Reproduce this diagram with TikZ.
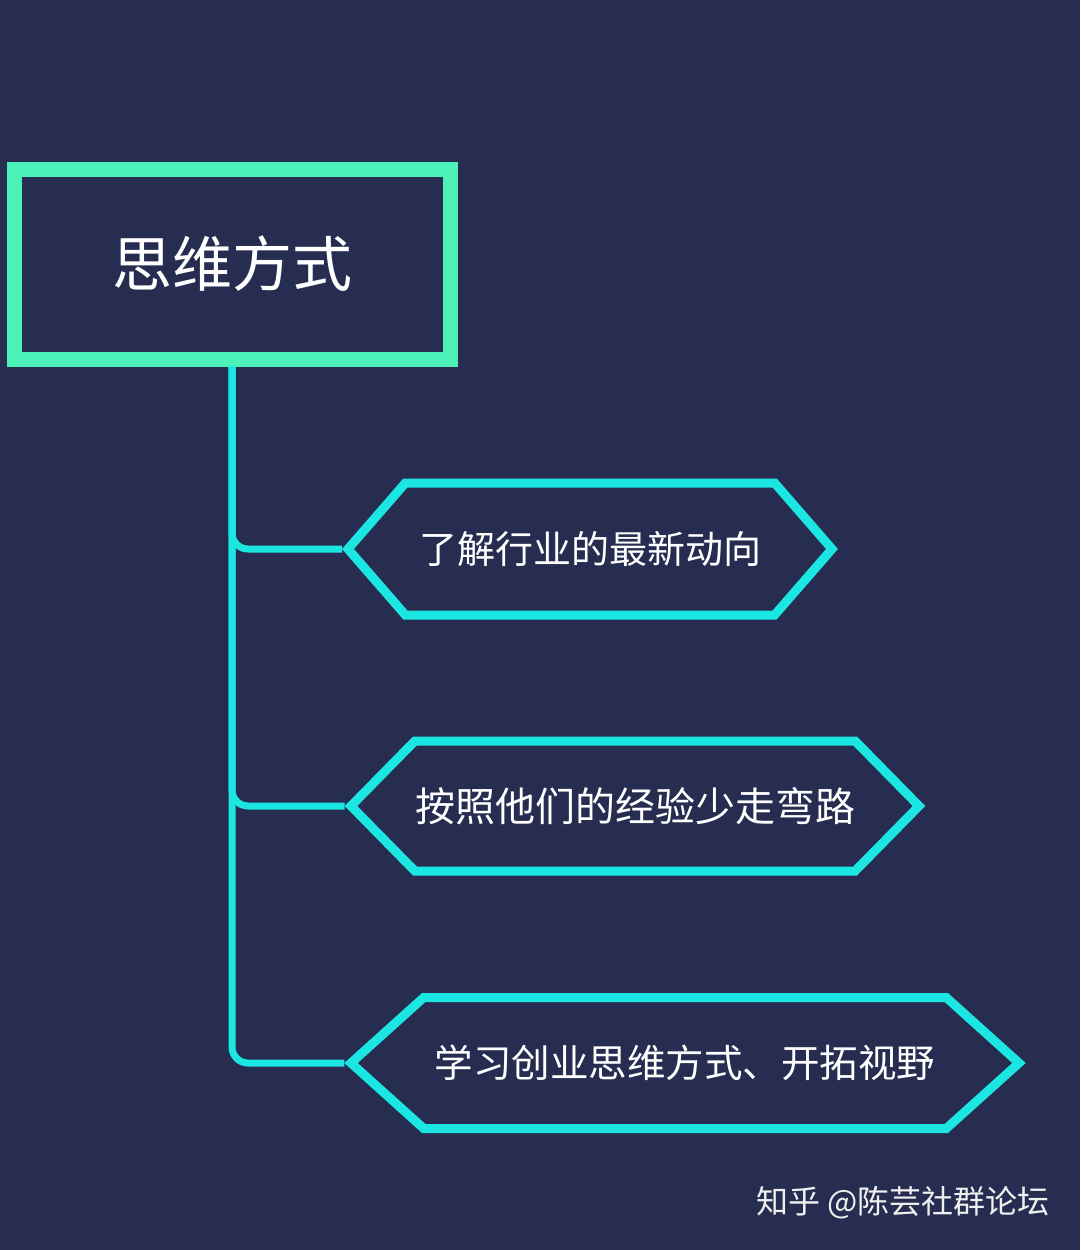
\documentclass[tikz,border=0pt]{standalone}
\usepackage{fontspec}
\setmainfont{Noto Sans CJK SC}
\usepackage{tikz}
\usetikzlibrary{shapes.symbols,positioning}
\definecolor{pagebg}{RGB}{38,45,80}
\definecolor{rootline}{RGB}{76,242,184}
\definecolor{branchline}{RGB}{28,230,226}
\definecolor{marktext}{RGB}{240,240,240}

\begin{document}
\begin{tikzpicture}[x=1pt, y=-1pt,
  rootbox/.style={rectangle, draw=rootline, line width=15pt, minimum width=436pt, minimum height=190pt, text=white, font=\fontsize{60}{66}\selectfont, inner sep=0pt},
  hexbox/.style={signal, signal to=west and east, draw=branchline, line width=9pt, text=white, inner sep=0pt},
  link/.style={draw=branchline, line width=7pt, rounded corners=16pt},
  wmark/.style={text=marktext, font=\fontsize{32}{36}\selectfont, inner sep=0pt}
]
  % ---------------- page ----------------
  \fill[pagebg] (0,0) rectangle (1080,1250);
  \useasboundingbox (0,0) rectangle (1080,1250);
  % ---------------- nodes ----------------
  \node[rootbox] (root) at (232,264) {思维方式};
  \node[hexbox, signal pointer angle=98, minimum width=484pt, minimum height=132pt, font=\fontsize{38}{44}\selectfont] (news) at (590,549) {了解行业的最新动向};
  \node[hexbox, signal pointer angle=91, minimum width=568pt, minimum height=130pt, font=\fontsize{40}{46}\selectfont] (exp) at (635,806) {按照他们的经验少走弯路};
  \node[hexbox, signal pointer angle=84, minimum width=668pt, minimum height=131pt, font=\fontsize{38.5}{44}\selectfont] (view) at (685,1063) {学习创业思维方式、开拓视野};
  % watermark
  \node[wmark, anchor=east] (zh) at (1050,1203) {知乎 @陈芸社群论坛};
  % ---------------- edges ----------------
  \draw[link] (root.south) |- (news.west);
  \draw[link] (root.south) |- (exp.west);
  \draw[link] (root.south) |- (view.west);
\end{tikzpicture}
\end{document}
